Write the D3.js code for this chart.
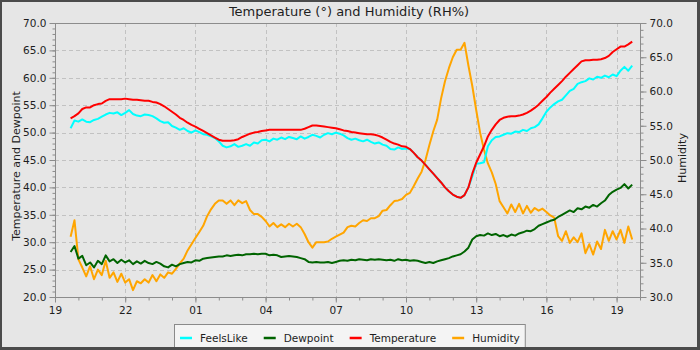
<!DOCTYPE html>
<html>
<head>
<meta charset="utf-8">
<script src="https://cdn.jsdelivr.net/npm/d3@7"></script>
<style>
  html, body { margin: 0; padding: 0; background: #fff; }
  svg { display: block; }
  text { font-family: "DejaVu Sans", sans-serif; }
</style>
</head>
<body>
<svg id="chart" width="700" height="350"></svg>
<script>
// Readings every 10 minutes starting at 19:40
const startTime = new Date(2024, 0, 1, 19, 40);
const stepMinutes = 10;
const axisStart = new Date(2024, 0, 1, 19, 0);
const axisEnd = new Date(2024, 0, 2, 20, 0);

const seriesNames = ["FeelsLike", "Dewpoint", "Temperature", "Humidity"];
const seriesColors = ["#00ffff", "#006400", "#ff0000", "#ffa500"];

const temperature = [
  52.6, 53.0, 53.5, 54.3, 54.6, 54.6, 55.0, 55.2, 55.3, 55.8,
  56.1, 56.1, 56.1, 56.1, 56.2, 56.1, 56.0, 56.0, 55.9, 55.8,
  55.8, 55.6, 55.5, 55.2, 54.8, 54.3, 53.8, 53.3, 52.7, 52.3,
  51.8, 51.4, 51.1, 50.7, 50.3, 49.9, 49.5, 49.1, 48.7, 48.5,
  48.5, 48.5, 48.6, 48.8, 49.2, 49.5, 49.8, 50.0, 50.1, 50.3,
  50.4, 50.5, 50.5, 50.5, 50.5, 50.5, 50.5, 50.5, 50.5, 50.5,
  50.7, 51.0, 51.3, 51.3, 51.2, 51.1, 51.0, 50.9, 50.8, 50.6,
  50.4, 50.3, 50.1, 50.0, 49.9, 49.8, 49.7, 49.7, 49.6, 49.4,
  49.1, 48.7, 48.3, 48.0, 47.8, 47.5, 47.4, 47.0, 46.3, 45.5,
  44.9, 44.1, 43.3, 42.5, 41.7, 40.9, 40.0, 39.3, 38.7, 38.3,
  38.1, 38.6, 40.0, 42.5, 44.5, 46.0, 47.5, 49.3, 50.5, 51.5,
  52.3, 52.7, 52.9, 53.0, 53.0, 53.1, 53.3, 53.6, 54.0, 54.5,
  55.1, 55.8, 56.5, 57.3, 58.0, 58.7, 59.4, 60.2, 60.9, 61.6,
  62.3, 63.0, 63.2, 63.2, 63.3, 63.3, 63.4, 63.6, 64.0, 64.7,
  65.2, 65.7, 65.7, 66.1, 66.6
];

const feelsLike = [
  50.8, 52.2, 52.0, 52.4, 52.0, 51.9, 52.3, 52.5, 52.9, 53.3,
  53.6, 53.5, 53.7, 53.2, 53.6, 54.1, 53.4, 53.1, 53.0, 53.3,
  53.2, 53.0, 52.6, 52.1, 51.8, 51.9, 51.2, 50.9, 50.5, 50.8,
  50.3, 50.0, 50.4, 50.1, 49.7, 49.6, 49.3, 49.0, 48.4, 47.6,
  47.3, 47.5, 47.9, 47.4, 47.6, 47.9, 47.6, 48.2, 48.0, 48.6,
  48.7, 48.4, 48.9, 48.7, 49.1, 48.8, 49.2, 49.0, 48.8, 49.3,
  48.9, 49.2, 49.6, 49.4, 49.1, 49.6, 49.9, 49.7, 50.0, 49.8,
  49.5, 49.0, 48.7, 48.9, 48.6, 48.4, 48.7, 48.3, 48.0, 48.2,
  47.8, 47.6, 47.0, 46.9, 47.3, 47.0, 47.1, 47.0, 46.3, 45.5,
  44.9, 44.1, 43.3, 42.5, 41.7, 40.9, 40.0, 39.3, 38.7, 38.3,
  38.1, 38.6, 40.0, 42.0, 44.3, 44.4, 44.6, 47.5, 48.6, 49.2,
  49.3, 49.6, 49.9, 49.8, 50.2, 50.1, 50.5, 50.3, 50.8, 51.0,
  51.5, 52.6, 53.8, 54.6, 55.2, 55.7, 56.0, 56.8, 57.6, 58.0,
  58.9, 59.2, 59.4, 59.9, 59.7, 60.2, 60.0, 60.4, 60.1, 60.6,
  60.3, 61.3, 62.0, 61.3, 62.2
];

const dewpoint = [
  28.2, 29.3, 27.0, 27.5, 25.8, 26.3, 25.4, 26.6, 26.0, 27.6,
  26.5, 26.9, 26.2, 26.8, 26.3, 26.7, 26.0, 26.5, 26.1, 26.6,
  26.2, 26.0, 26.4, 26.1, 25.6, 25.4, 25.9, 25.6, 26.0, 26.2,
  26.4, 26.3, 26.7, 26.6, 27.0, 27.1, 27.2, 27.3, 27.4, 27.4,
  27.6, 27.5, 27.6, 27.7, 27.6, 27.8, 27.8, 27.9, 27.8, 27.9,
  27.9, 27.6, 27.7, 27.6, 27.3, 27.4, 27.5, 27.4, 27.3, 27.1,
  26.9, 26.4, 26.3, 26.4, 26.3, 26.3, 26.4, 26.2, 26.4, 26.6,
  26.7, 26.6, 26.8, 26.7, 26.9, 26.8, 26.7, 26.9, 26.8, 26.9,
  26.8, 26.7, 26.8, 26.6, 26.9, 26.7, 26.8, 26.6, 26.7, 26.6,
  26.4, 26.2, 26.4, 26.2, 26.5, 26.7, 26.9, 27.1, 27.4, 27.6,
  27.8, 28.3, 29.0, 30.5, 31.1, 31.3, 31.2, 31.6, 31.3, 31.5,
  31.1, 31.3, 31.0, 31.4, 31.2, 31.6, 31.8, 32.1, 32.0, 32.4,
  33.0, 33.3, 33.6, 33.9, 34.1, 34.6, 35.0, 35.4, 35.8, 35.5,
  36.2, 36.0, 36.5, 36.3, 36.8, 36.5, 37.1, 37.6, 38.6, 39.2,
  39.6, 39.9, 40.6, 39.8, 40.5
];

const humidity = [
  38.8, 41.2, 35.5, 34.3, 33.0, 34.5, 32.6, 34.0, 33.2, 35.3,
  32.8, 33.6, 32.2, 33.4, 32.1, 32.6, 31.0, 32.3, 32.0, 32.6,
  32.1, 33.2, 32.3, 33.3, 32.8, 33.6, 33.4, 34.1, 34.9, 35.6,
  36.8, 37.7, 38.6, 39.5, 40.4, 41.8, 42.8, 43.6, 44.1, 44.1,
  43.6, 44.1, 43.4, 44.1, 43.7, 44.0, 42.7, 42.1, 42.1, 41.7,
  41.1, 40.3, 40.8, 40.2, 40.6, 40.2, 40.7, 40.3, 40.7, 40.2,
  39.2, 38.0, 37.2, 38.0, 38.0, 38.0, 38.1, 38.5, 38.8, 39.1,
  39.4, 40.2, 40.4, 40.3, 40.8, 41.2, 41.1, 41.5, 41.5, 41.8,
  42.6, 42.7, 43.4, 44.0, 44.1, 44.3, 44.9, 45.2, 46.2, 47.3,
  48.3, 50.0, 52.2, 54.2, 55.9, 59.0, 61.5, 63.4, 65.0, 66.1,
  66.1, 67.1, 63.8, 60.8, 57.3, 54.0, 51.5, 49.5, 48.2, 46.5,
  44.0, 43.1, 42.2, 43.5, 42.4, 43.6, 42.2, 43.3, 42.3, 43.0,
  42.6, 42.9, 42.4, 41.9, 41.6, 38.9, 38.2, 39.6, 37.9, 38.7,
  38.0, 39.3, 36.4, 37.7, 36.2, 38.1, 37.0, 39.8, 38.2, 39.6,
  38.4, 39.8, 37.9, 40.3, 38.4
];

const leftTicks = [20, 25, 30, 35, 40, 45, 50, 55, 60, 65, 70];
const rightTicks = [30, 35, 40, 45, 50, 55, 60, 65, 70];
const hourLabels = ["19", "22", "01", "04", "07", "10", "13", "16", "19"];

const times = temperature.map((_, i) => d3.timeMinute.offset(startTime, i * stepMinutes));

// ---- layout ----
const W = 700, H = 350;
const plot = { left: 55, right: 640, top: 23, bottom: 297 };
const bg = "#e6e6e6";
const axisColor = "#8c8c8c";
const textColor = "#1e1e1e";

const svg = d3.select("#chart");

// frame and background
svg.append("rect").attr("width", W).attr("height", H).attr("fill", "#4b4b4b");
svg.append("rect").attr("x", 2).attr("y", 2).attr("width", W - 5).attr("height", H - 5).attr("fill", bg);

// scales
const x = d3.scaleTime().domain([axisStart, axisEnd]).range([plot.left, plot.right]);
const yL = d3.scaleLinear().domain([20, 70]).range([plot.bottom, plot.top]);
const yR = d3.scaleLinear().domain([30, 70]).range([plot.bottom, plot.top]);

const hourTicks = d3.timeHour.range(axisStart, d3.timeMinute.offset(axisEnd, 1));
const majorHours = hourTicks.filter((d, i) => i % 3 === 0);

// grid
const grid = svg.append("g").attr("stroke", "#c2c2c2").attr("stroke-dasharray", "4,3").attr("stroke-width", 1);
grid.selectAll("line.h").data(leftTicks.slice(1, -1)).join("line")
  .attr("x1", plot.left).attr("x2", plot.right)
  .attr("y1", d => Math.round(yL(d)) + 0.5).attr("y2", d => Math.round(yL(d)) + 0.5);
grid.selectAll("line.v").data(majorHours.slice(1)).join("line")
  .attr("y1", plot.top).attr("y2", plot.bottom)
  .attr("x1", d => Math.round(x(d)) + 0.5).attr("x2", d => Math.round(x(d)) + 0.5);

// plot border
svg.append("rect")
  .attr("x", plot.left + 0.5).attr("y", plot.top + 0.5)
  .attr("width", plot.right - plot.left).attr("height", plot.bottom - plot.top)
  .attr("fill", "none").attr("stroke", axisColor);

function styleAxis(g) {
  g.select(".domain").remove();
  g.selectAll(".tick line").attr("stroke", axisColor);
  g.selectAll(".tick text").attr("fill", textColor).style("font-size", "10.5px")
    .style("font-family", "'DejaVu Sans', sans-serif");
}

// left axis (major + minor)
svg.append("g").attr("transform", `translate(${plot.left + 0.5},0)`)
  .call(d3.axisLeft(yL).tickValues(d3.range(20, 70.5, 1)).tickSize(3).tickFormat(""))
  .call(styleAxis);
svg.append("g").attr("transform", `translate(${plot.left + 0.5},0)`)
  .call(d3.axisLeft(yL).tickValues(leftTicks).tickSize(6).tickPadding(3).tickFormat(d3.format(".1f")))
  .call(styleAxis);

// right axis (major + minor)
svg.append("g").attr("transform", `translate(${plot.right + 0.5},0)`)
  .call(d3.axisRight(yR).tickValues(d3.range(30, 70.5, 1)).tickSize(3).tickFormat(""))
  .call(styleAxis);
svg.append("g").attr("transform", `translate(${plot.right + 0.5},0)`)
  .call(d3.axisRight(yR).tickValues(rightTicks).tickSize(6).tickPadding(3).tickFormat(d3.format(".1f")))
  .call(styleAxis);

// bottom axis (hourly minor, 3-hourly labelled)
svg.append("g").attr("transform", `translate(0,${plot.bottom + 0.5})`)
  .call(d3.axisBottom(x).tickValues(hourTicks).tickSize(3).tickFormat(""))
  .call(styleAxis);
svg.append("g").attr("transform", `translate(0,${plot.bottom + 0.5})`)
  .call(d3.axisBottom(x).tickValues(majorHours).tickSize(5).tickPadding(4)
    .tickFormat((d, i) => hourLabels[i]))
  .call(styleAxis);

// titles
svg.append("text").attr("x", 349).attr("y", 16).attr("text-anchor", "middle")
  .attr("fill", textColor).style("font-size", "13px")
  .text("Temperature (°) and Humidity (RH%)");
svg.append("text").attr("transform", "translate(20,166) rotate(-90)").attr("text-anchor", "middle")
  .attr("fill", textColor).style("font-size", "11px").text("Temperature and Dewpoint");
svg.append("text").attr("transform", "translate(686,158) rotate(-90)").attr("text-anchor", "middle")
  .attr("fill", textColor).style("font-size", "11px").text("Humidity");

// series lines
svg.append("clipPath").attr("id", "plotClip").append("rect")
  .attr("x", plot.left).attr("y", plot.top).attr("width", plot.right - plot.left).attr("height", plot.bottom - plot.top);

const lineL = d3.line().x((d, i) => x(times[i])).y(d => yL(d));
const lineR = d3.line().x((d, i) => x(times[i])).y(d => yR(d));

const lines = svg.append("g").attr("clip-path", "url(#plotClip)")
  .attr("fill", "none").attr("stroke-width", 2).attr("stroke-linejoin", "round");

lines.append("path").attr("d", lineR(humidity)).attr("stroke", seriesColors[3]);
lines.append("path").attr("d", lineL(feelsLike)).attr("stroke", seriesColors[0]);
lines.append("path").attr("d", lineL(dewpoint)).attr("stroke", seriesColors[1]);
lines.append("path").attr("d", lineL(temperature)).attr("stroke", seriesColors[2]);

// legend
const legend = svg.append("g");
const legendBox = legend.append("rect").attr("fill", "#f4f4f4").attr("stroke", "#8a8a8a");
let cursor = 0;
seriesNames.forEach((name, i) => {
  const g = legend.append("g").attr("transform", `translate(${cursor},0)`);
  g.append("line").attr("x1", 0).attr("x2", 12).attr("y1", 0).attr("y2", 0)
    .attr("stroke", seriesColors[i]).attr("stroke-width", 2.5);
  const t = g.append("text").attr("x", 20).attr("y", 4).attr("fill", textColor)
    .style("font-size", "10.5px").text(name);
  cursor += 20 + t.node().getComputedTextLength() + 16;
});
const legendWidth = cursor - 16;
const lx = Math.round(350 - legendWidth / 2);
legend.attr("transform", `translate(${lx},338)`);
legendBox.attr("x", -5.5).attr("y", -13.5).attr("width", legendWidth + 11).attr("height", 24);

// bottom frame edge drawn over the legend box
svg.append("rect").attr("x", 0).attr("y", H - 3).attr("width", W).attr("height", 3).attr("fill", "#4b4b4b");
</script>
</body>
</html>
